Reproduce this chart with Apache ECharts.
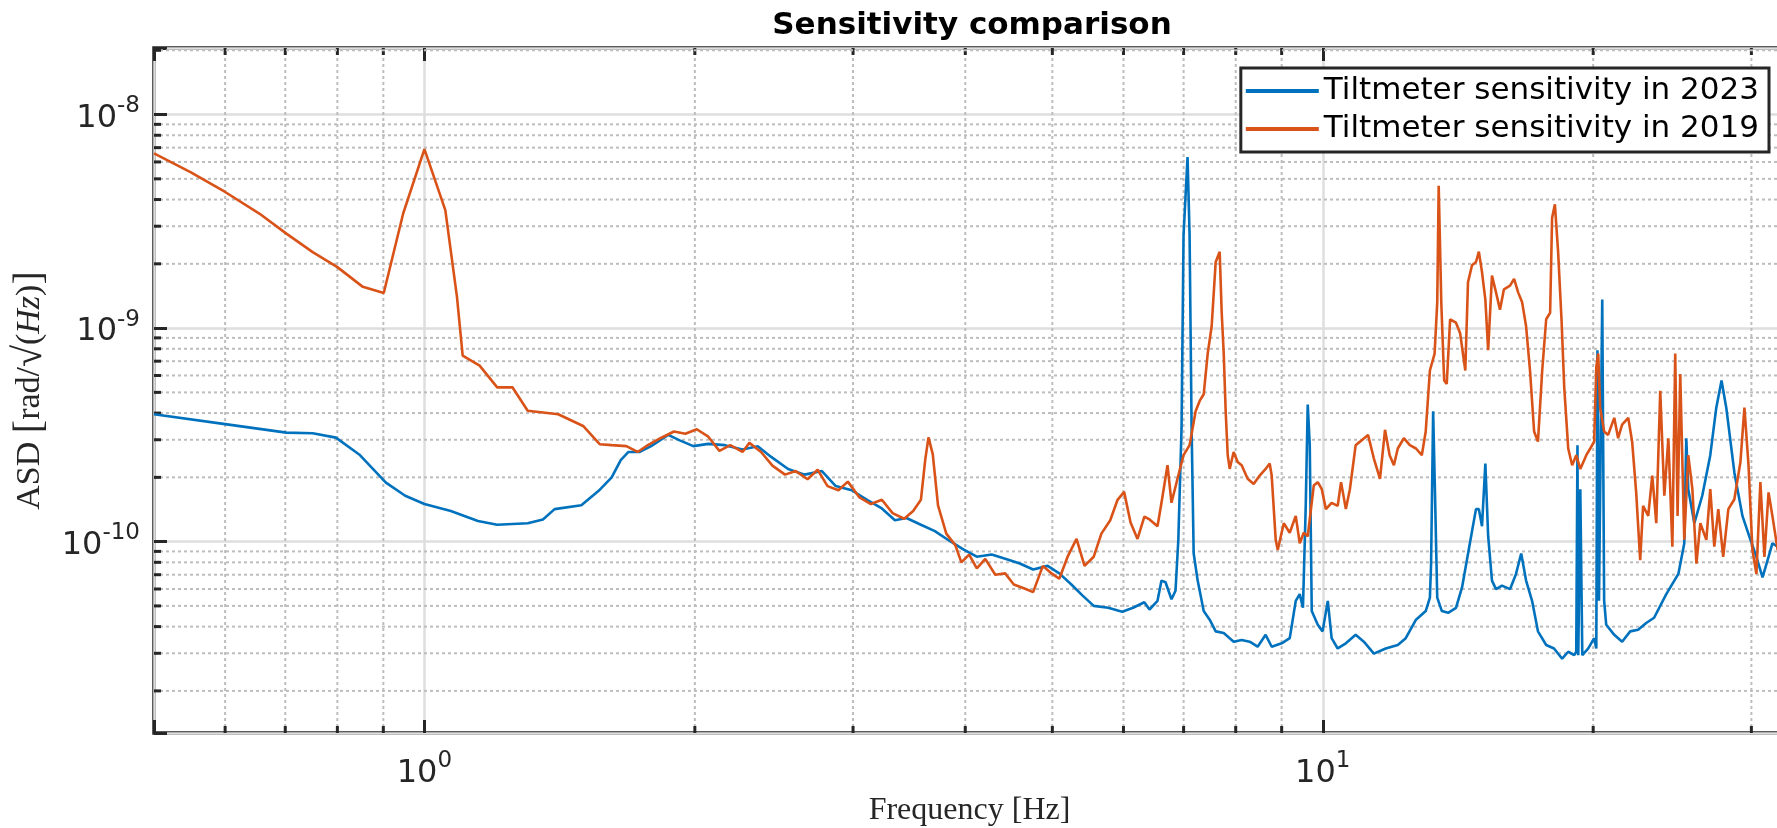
<!DOCTYPE html>
<html>
<head>
<meta charset="utf-8">
<title>Sensitivity comparison</title>
<script src="https://cdn.jsdelivr.net/npm/echarts@6/dist/echarts.min.js"></script>
<style>
html, body { margin: 0; padding: 0; background: #fff; }
#main { width: 1777px; height: 828px; }
</style>
</head>
<body>
<div id="main"></div>
<script>
// [frequency Hz, ASD rad/sqrt(Hz)]
var asd2023 = [
  [0.5,3.95e-10],[0.6,3.55e-10],[0.702,3.24e-10],[0.751,3.22e-10],[0.797,3.07e-10],[0.846,2.56e-10],
  [0.906,1.89e-10],[0.952,1.64e-10],[1.0,1.50e-10],[1.07,1.39e-10],[1.147,1.25e-10],[1.205,1.20e-10],
  [1.303,1.22e-10],[1.355,1.27e-10],[1.396,1.42e-10],[1.495,1.48e-10],[1.563,1.73e-10],[1.616,2.0e-10],
  [1.654,2.41e-10],[1.687,2.63e-10],[1.737,2.63e-10],[1.788,2.80e-10],[1.868,3.16e-10],[1.924,2.98e-10],
  [1.992,2.80e-10],[2.07,2.87e-10],[2.16,2.83e-10],[2.26,2.70e-10],[2.35,2.80e-10],[2.43,2.50e-10],
  [2.54,2.19e-10],[2.65,2.06e-10],[2.77,2.14e-10],[2.87,1.82e-10],[2.99,1.74e-10],[3.11,1.57e-10],
  [3.23,1.43e-10],[3.34,1.26e-10],[3.44,1.29e-10],[3.57,1.20e-10],[3.70,1.12e-10],[3.84,1.01e-10],
  [3.98,9.2e-11],[4.12,8.5e-11],[4.28,8.7e-11],[4.44,8.3e-11],[4.60,7.9e-11],[4.76,7.4e-11],
  [4.94,7.7e-11],[5.09,7.1e-11],[5.25,6.3e-11],[5.40,5.6e-11],[5.56,5.0e-11],[5.77,4.9e-11],
  [5.98,4.7e-11],[6.15,4.9e-11],[6.33,5.2e-11],[6.414,4.81e-11],[6.547,5.28e-11],[6.614,6.57e-11],
  [6.683,6.45e-11],[6.786,5.37e-11],[6.856,5.89e-11],[6.906,1.02e-10],[6.963,3.40e-10],[6.999,2.73e-9],
  [7.071,6.33e-9],[7.108,2.73e-9],[7.145,3.40e-10],[7.183,8.80e-11],[7.257,6.57e-11],[7.370,4.73e-11],
  [7.484,4.31e-11],[7.600,3.80e-11],[7.758,3.73e-11],[7.958,3.40e-11],[8.123,3.46e-11],[8.291,3.40e-11],
  [8.463,3.22e-11],[8.638,3.66e-11],[8.773,3.22e-11],[9.001,3.34e-11],[9.188,3.53e-11],[9.331,5.28e-11],
  [9.427,5.68e-11],[9.505,4.90e-11],[9.573,1.47e-10],[9.622,4.39e-10],[9.672,2.83e-10],[9.722,4.73e-11],
  [9.873,4.08e-11],[9.995,3.80e-11],[10.13,5.28e-11],[10.23,3.53e-11],[10.39,3.16e-11],[10.61,3.34e-11],
  [10.88,3.66e-11],[11.11,3.40e-11],[11.40,2.99e-11],[11.75,3.16e-11],[12.12,3.28e-11],[12.37,3.53e-11],
  [12.70,4.31e-11],[13.02,4.73e-11],[13.16,5.47e-11],[13.20,7.88e-11],[13.27,4.08e-10],[13.33,1.76e-10],
  [13.41,5.47e-11],[13.57,4.73e-11],[13.79,4.64e-11],[14.07,4.90e-11],[14.29,6.10e-11],[14.58,9.82e-11],
  [14.81,1.42e-10],[14.92,1.42e-10],[15.04,1.18e-10],[15.17,2.32e-10],[15.28,1.06e-10],[15.43,6.57e-11],
  [15.59,5.99e-11],[15.83,6.22e-11],[16.16,5.99e-11],[16.41,7.06e-11],[16.63,8.80e-11],[16.84,6.57e-11],
  [17.10,5.28e-11],[17.36,3.80e-11],[17.73,3.28e-11],[18.09,3.16e-11],[18.47,2.83e-11],[18.76,3.05e-11],
  [19.05,2.94e-11],[19.15,3.05e-11],[19.21,2.83e-10],[19.25,2.94e-11],[19.35,1.76e-10],[19.45,2.94e-11],
  [19.75,3.16e-11],[20.05,3.53e-11],[20.16,3.16e-11],[20.22,7.88e-10],[20.30,5.28e-11],[20.47,1.36e-9],
  [20.57,5.28e-11],[20.68,4.08e-11],[21.11,3.66e-11],[21.54,3.40e-11],[21.99,3.80e-11],[22.44,3.87e-11],
  [22.91,4.16e-11],[23.38,4.4e-11],[24.12,5.68e-11],[24.88,7.06e-11],[25.26,9.82e-11],[25.39,3.05e-10],
  [25.52,1.76e-10],[25.92,1.22e-10],[26.45,1.64e-10],[27.00,2.54e-10],[27.42,4.24e-10],[27.79,5.68e-10],
  [28.13,4.24e-10],[28.72,2.11e-10],[29.32,1.32e-10],[29.93,1.02e-10],[30.39,8.49e-11],[30.87,6.81e-11],
  [31.35,8.49e-11],[31.66,9.82e-11],[32.09,9.47e-11]
];

var asd2019 = [
  [0.5,6.58e-9],[0.549,5.38e-9],[0.6,4.34e-9],[0.655,3.44e-9],[0.702,2.77e-9],[0.751,2.27e-9],
  [0.8,1.93e-9],[0.854,1.56e-9],[0.901,1.46e-9],[0.947,3.44e-9],[1.0,6.89e-9],[1.055,3.57e-9],
  [1.087,1.40e-9],[1.103,7.43e-10],[1.152,6.67e-10],[1.205,5.28e-10],[1.253,5.28e-10],[1.303,4.10e-10],
  [1.409,3.95e-10],[1.502,3.48e-10],[1.567,2.86e-10],[1.616,2.83e-10],[1.678,2.80e-10],[1.727,2.63e-10],
  [1.773,2.83e-10],[1.831,3.05e-10],[1.896,3.28e-10],[1.952,3.20e-10],[2.01,3.36e-10],[2.07,3.10e-10],
  [2.13,2.66e-10],[2.19,2.83e-10],[2.26,2.63e-10],[2.30,2.90e-10],[2.37,2.63e-10],[2.44,2.27e-10],
  [2.52,2.06e-10],[2.59,2.14e-10],[2.67,1.96e-10],[2.74,2.17e-10],[2.81,1.82e-10],[2.89,1.74e-10],
  [2.96,1.91e-10],[3.05,1.61e-10],[3.14,1.50e-10],[3.23,1.57e-10],[3.32,1.36e-10],[3.42,1.28e-10],
  [3.50,1.39e-10],[3.57,1.57e-10],[3.61,2.42e-10],[3.64,3.08e-10],[3.68,2.57e-10],[3.73,1.48e-10],
  [3.81,1.09e-10],[3.90,9.6e-11],[3.96,8.0e-11],[4.04,8.7e-11],[4.12,7.5e-11],[4.21,8.3e-11],
  [4.32,7.0e-11],[4.43,7.1e-11],[4.53,6.3e-11],[4.67,6.0e-11],[4.76,5.8e-11],[4.88,7.7e-11],
  [4.99,7.1e-11],[5.09,6.7e-11],[5.20,8.5e-11],[5.32,1.03e-10],[5.43,7.7e-11],[5.56,8.5e-11],
  [5.67,1.09e-10],[5.80,1.26e-10],[5.91,1.57e-10],[6.01,1.71e-10],[6.11,1.23e-10],[6.22,1.03e-10],
  [6.33,1.31e-10],[6.414,1.27e-10],[6.547,1.18e-10],[6.614,1.52e-10],[6.717,2.28e-10],[6.786,1.52e-10],
  [6.891,1.97e-10],[6.999,2.54e-10],[7.108,2.83e-10],[7.219,4.08e-10],[7.294,4.56e-10],[7.370,4.90e-10],
  [7.446,7.60e-10],[7.522,1.02e-9],[7.600,2.04e-9],[7.678,2.28e-9],[7.718,1.18e-9],[7.758,7.60e-10],
  [7.797,4.08e-10],[7.838,2.54e-10],[7.878,2.19e-10],[7.958,2.63e-10],[8.040,2.36e-10],[8.123,2.28e-10],
  [8.249,1.97e-10],[8.377,1.86e-10],[8.507,2.04e-10],[8.638,2.19e-10],[8.728,2.32e-10],[8.773,2.04e-10],
  [8.864,1.02e-10],[8.910,9.13e-11],[9.049,1.22e-10],[9.188,1.10e-10],[9.331,1.32e-10],[9.427,9.82e-11],
  [9.524,1.10e-10],[9.622,1.06e-10],[9.772,1.83e-10],[9.873,1.90e-10],[9.975,1.76e-10],[10.08,1.42e-10],
  [10.23,1.52e-10],[10.39,1.47e-10],[10.48,1.90e-10],[10.61,1.42e-10],[10.72,1.76e-10],[10.88,2.83e-10],
  [11.00,2.94e-10],[11.23,3.16e-10],[11.40,2.45e-10],[11.58,1.97e-10],[11.73,3.34e-10],[11.87,2.54e-10],
  [12.00,2.28e-10],[12.12,2.73e-10],[12.31,3.05e-10],[12.50,2.83e-10],[12.70,2.73e-10],[12.89,2.54e-10],
  [13.02,3.28e-10],[13.16,6.33e-10],[13.32,7.60e-10],[13.41,1.32e-9],[13.46,4.64e-9],[13.55,1.32e-9],
  [13.65,5.68e-10],[13.74,5.47e-10],[13.86,1.10e-9],[14.07,1.06e-9],[14.22,9.47e-10],[14.41,6.33e-10],
  [14.51,1.64e-9],[14.66,1.97e-9],[14.81,2.04e-9],[14.92,2.28e-9],[15.04,1.83e-9],[15.17,1.36e-9],
  [15.28,7.88e-10],[15.43,1.76e-9],[15.59,1.47e-9],[15.75,1.22e-9],[15.91,1.52e-9],[16.16,1.58e-9],
  [16.33,1.70e-9],[16.50,1.47e-9],[16.67,1.32e-9],[16.84,1.02e-9],[17.01,6.33e-10],[17.19,3.28e-10],
  [17.36,2.94e-10],[17.55,6.33e-10],[17.73,1.10e-9],[17.91,1.18e-9],[18.00,3.28e-9],[18.13,3.80e-9],
  [18.28,2.28e-9],[18.44,1.10e-9],[18.57,5.28e-10],[18.76,2.73e-10],[18.95,2.28e-10],[19.15,2.54e-10],
  [19.35,2.19e-10],[19.65,2.54e-10],[19.85,2.73e-10],[20.05,2.94e-10],[20.16,6.57e-10],[20.26,7.60e-10],
  [20.36,4.24e-10],[20.57,3.28e-10],[20.78,3.16e-10],[21.11,3.80e-10],[21.32,3.05e-10],[21.54,3.53e-10],
  [21.88,3.80e-10],[22.10,2.94e-10],[22.33,1.70e-10],[22.56,8.18e-11],[22.73,1.47e-10],[23.03,1.32e-10],
  [23.27,2.04e-10],[23.51,1.22e-10],[23.75,5.09e-10],[24.00,1.64e-10],[24.25,3.05e-10],[24.50,9.47e-11],
  [24.68,7.60e-10],[24.83,1.32e-10],[25.00,6.10e-10],[25.26,1.02e-10],[25.52,2.54e-10],[25.79,1.76e-10],
  [26.06,7.88e-11],[26.32,1.22e-10],[26.73,1.02e-10],[27.00,1.76e-10],[27.28,9.47e-11],[27.56,1.42e-10],
  [27.91,8.49e-11],[28.28,1.42e-10],[28.72,1.58e-10],[29.17,2.36e-10],[29.47,4.24e-10],[29.78,2.28e-10],
  [30.08,9.13e-11],[30.39,7.06e-11],[30.70,1.90e-10],[31.02,8.49e-11],[31.35,1.70e-10],[31.66,1.32e-10],
  [32.09,9.13e-11]
];

var seriesNames = ['Tiltmeter sensitivity in 2023', 'Tiltmeter sensitivity in 2019'];
var xMinorTicks = [0.6, 0.7, 0.8, 0.9, 2, 3, 4, 5, 6, 7, 8, 9, 20, 30];
var yMinorTicks = [2e-11, 3e-11, 4e-11, 5e-11, 6e-11, 7e-11, 8e-11, 9e-11,
                   2e-10, 3e-10, 4e-10, 5e-10, 6e-10, 7e-10, 8e-10, 9e-10,
                   2e-9, 3e-9, 4e-9, 5e-9, 6e-9, 7e-9, 8e-9, 9e-9, 2e-8];

var X_MIN = 0.5, X_MAX = 32.7;
var Y_MIN = 1.27e-11, Y_MAX = 2.05e-8;
var AX = '#262626';

// labels like 10^-9, empty for the extent edges
function powLabel(v) {
  var e = Math.log10(v);
  var r = Math.round(e);
  if (Math.abs(e - r) > 1e-6) return '';
  return '{b|10}{s|' + r + '}';
}
var tickRich = {
  b: { fontFamily: 'DejaVu Sans', fontSize: 32, color: AX, verticalAlign: 'bottom', lineHeight: 40 },
  s: { fontFamily: 'DejaVu Sans', fontSize: 23, color: AX, verticalAlign: 'top', lineHeight: 40 }
};

function minorX(params, api) {
  var f = api.value(0);
  var lo = api.coord([f, Y_MIN]);
  var hi = api.coord([f, Y_MAX]);
  return {
    type: 'group',
    children: [
      { type: 'line', shape: { x1: lo[0], y1: lo[1], x2: hi[0], y2: hi[1] },
        style: { stroke: '#bdbdbd', lineWidth: 2, lineDash: [3, 3] } },
      { type: 'line', shape: { x1: lo[0], y1: lo[1], x2: lo[0], y2: lo[1] - 7 },
        style: { stroke: AX, lineWidth: 3 } },
      { type: 'line', shape: { x1: hi[0], y1: hi[1], x2: hi[0], y2: hi[1] + 7 },
        style: { stroke: AX, lineWidth: 3 } }
    ]
  };
}
function minorY(params, api) {
  var a = api.value(1);
  var lo = api.coord([X_MIN, a]);
  var hi = api.coord([X_MAX, a]);
  return {
    type: 'group',
    children: [
      { type: 'line', shape: { x1: lo[0], y1: lo[1], x2: hi[0], y2: hi[1] },
        style: { stroke: '#bdbdbd', lineWidth: 2, lineDash: [3, 3] } },
      { type: 'line', shape: { x1: lo[0], y1: lo[1], x2: lo[0] + 7, y2: lo[1] },
        style: { stroke: AX, lineWidth: 3 } }
    ]
  };
}

var logX = {
  type: 'log', logBase: 10, min: X_MIN, max: X_MAX, gridIndex: 0,
  axisLine: { show: false },
  axisTick: { inside: true, length: 13, lineStyle: { color: AX, width: 3 } }
};

var option = {
  animation: false,
  backgroundColor: '#fff',
  title: {
    text: 'Sensitivity comparison',
    left: 967, top: 5, textAlign: 'center',
    textStyle: { fontFamily: 'DejaVu Sans', fontWeight: 'bold', fontSize: 31, color: '#000' }
  },
  legend: {
    data: seriesNames,
    orient: 'vertical',
    right: 8, top: 68,
    padding: [6, 10, 6, 5],
    icon: 'rect',
    itemWidth: 73, itemHeight: 4, itemGap: 4,
    borderColor: AX, borderWidth: 3, backgroundColor: '#fff',
    selectedMode: false,
    textStyle: { fontFamily: 'DejaVu Sans', fontSize: 31, color: '#000', lineHeight: 34 }
  },
  grid: {
    left: 154, right: -8, top: 48, bottom: 95,
    outerBoundsMode: 'none',
    show: true, borderColor: AX, borderWidth: 3.5, backgroundColor: '#fff'
  },
  xAxis: [
    Object.assign({}, logX, {
      position: 'bottom',
      name: 'Frequency [Hz]', nameLocation: 'middle', nameGap: 56,
      nameTextStyle: { fontFamily: 'Liberation Serif', fontSize: 32, color: AX },
      axisLabel: { margin: 17, formatter: powLabel, rich: tickRich },
      splitLine: { show: true, lineStyle: { color: '#dedede', width: 2.5 } }
    }),
    Object.assign({}, logX, {
      position: 'top',
      axisLabel: { show: false },
      splitLine: { show: false }
    })
  ],
  yAxis: {
    type: 'log', logBase: 10, min: Y_MIN, max: Y_MAX,
    axisLine: { show: false },
    axisTick: { inside: true, length: 13, lineStyle: { color: AX, width: 3 } },
    axisLabel: { margin: 14, formatter: powLabel, rich: tickRich },
    splitLine: { show: true, lineStyle: { color: '#dedede', width: 2.5 } },
    name: '{a|ASD }{k|[}{a|rad/}{k|\u221A}{a|(}{i|Hz}{a|)}{k|]}',
    nameLocation: 'middle', nameRotate: 90, nameGap: 104,
    nameTextStyle: {
      rich: {
        a: { fontFamily: 'Liberation Serif', fontSize: 34, color: AX },
        k: { fontFamily: 'Liberation Serif', fontSize: 40, color: AX },
        i: { fontFamily: 'Liberation Serif', fontSize: 34, color: AX, fontStyle: 'italic' }
      }
    }
  },
  series: [
    {
      type: 'custom', name: 'xminor', silent: true, z: 1,
      renderItem: minorX,
      data: xMinorTicks.map(function (f) { return [f, Y_MIN]; })
    },
    {
      type: 'custom', name: 'yminor', silent: true, z: 1,
      renderItem: minorY,
      data: yMinorTicks.map(function (a) { return [X_MIN, a]; })
    },
    {
      name: seriesNames[0], type: 'line', data: asd2023,
      symbol: 'none', z: 3,
      lineStyle: { color: '#0072BD', width: 2.6 },
      itemStyle: { color: '#0072BD' }
    },
    {
      name: seriesNames[1], type: 'line', data: asd2019,
      symbol: 'none', z: 4,
      lineStyle: { color: '#D95319', width: 2.6 },
      itemStyle: { color: '#D95319' }
    }
  ]
};

var myChart = echarts.init(document.getElementById('main'));
myChart.setOption(option);
</script>
</body>
</html>
